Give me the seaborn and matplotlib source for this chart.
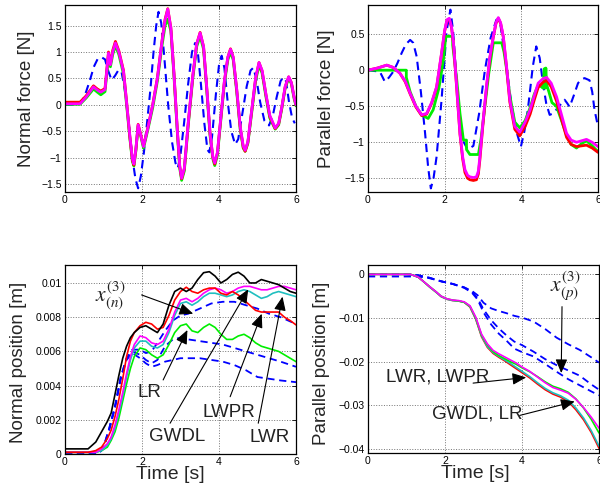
import numpy as np
import pandas as pd
import seaborn as sns
import matplotlib.pyplot as plt
from matplotlib.ticker import FuncFormatter

# ---- Normal force (top left) ----
t_nf = [0, 0.39, 0.55, 0.74, 0.84, 0.93, 1.04, 1.08, 1.13, 1.18, 1.24, 1.31, 1.40, 1.52, 1.60, 1.68,
        1.75, 1.79, 1.84, 1.90, 1.96, 2.04, 2.15, 2.28, 2.40, 2.52, 2.60, 2.67, 2.75, 2.83, 2.92, 2.98,
        3.03, 3.10, 3.20, 3.32, 3.42, 3.51, 3.60, 3.68, 3.77, 3.84, 3.89, 3.96, 4.04, 4.14, 4.23, 4.30,
        4.37, 4.46, 4.55, 4.63, 4.68, 4.75, 4.85, 4.95, 5.04, 5.12, 5.22, 5.32, 5.46, 5.55, 5.63, 5.72,
        5.81, 5.88, 5.95, 6.0]
magenta_nf = [0.02, 0.02, 0.15, 0.34, 0.28, 0.24, 0.29, 0.60, 0.98, 0.76, 1.00, 1.17, 1.00, 0.63, 0.05, -0.55,
              -1.02, -1.12, -0.85, -0.38, -0.55, -0.79, -0.45, 0.00, 0.50, 1.20, 1.60, 1.81, 1.45, 0.60, -0.50, -1.15,
              -1.39, -1.20, -0.35, 0.55, 1.15, 1.36, 1.10, 0.35, -0.55, -0.98, -1.10, -0.90, -0.30, 0.45, 0.90, 1.05,
              0.90, 0.30, -0.40, -0.78, -0.86, -0.70, -0.10, 0.50, 0.80, 0.65, 0.20, -0.20, -0.44, -0.35, -0.05, 0.35,
              0.53, 0.42, 0.15, 0.00]
green_nf = [0.01, 0.01, 0.13, 0.30, 0.24, 0.19, 0.25, 0.55, 0.92, 0.72, 0.95, 1.12, 0.95, 0.58, 0.00, -0.60,
            -1.07, -1.16, -0.88, -0.40, -0.57, -0.82, -0.48, -0.05, 0.45, 1.12, 1.50, 1.62, 1.40, 0.55, -0.55, -1.20,
            -1.43, -1.25, -0.40, 0.50, 1.10, 1.30, 1.05, 0.30, -0.60, -1.02, -1.15, -0.95, -0.35, 0.40, 0.85, 1.00,
            0.85, 0.25, -0.45, -0.82, -0.88, -0.73, -0.15, 0.45, 0.75, 0.60, 0.15, -0.25, -0.46, -0.38, -0.08, 0.32,
            0.50, 0.40, 0.12, -0.02]
red_nf = [0.05, 0.05, 0.17, 0.36, 0.30, 0.26, 0.31, 0.62, 1.00, 0.78, 1.03, 1.20, 1.02, 0.65, 0.06, -0.57,
          -1.04, -1.14, -0.86, -0.37, -0.54, -0.78, -0.44, 0.01, 0.51, 1.21, 1.62, 1.82, 1.46, 0.61, -0.50, -1.16,
          -1.40, -1.21, -0.36, 0.55, 1.15, 1.37, 1.10, 0.34, -0.56, -0.99, -1.12, -0.91, -0.31, 0.44, 0.90, 1.06,
          0.90, 0.29, -0.42, -0.80, -0.88, -0.71, -0.11, 0.49, 0.80, 0.64, 0.19, -0.22, -0.45, -0.36, -0.06, 0.34,
          0.53, 0.42, 0.15, 0.00]
t_nf_ref = [0, 0.35, 0.45, 0.55, 0.65, 0.75, 0.85, 0.95, 1.04, 1.12, 1.21, 1.30, 1.39, 1.47, 1.55, 1.65, 1.75,
            1.83, 1.90, 1.97, 2.05, 2.13, 2.22, 2.30, 2.37, 2.43, 2.50, 2.58, 2.68, 2.78, 2.87, 2.93, 3.00, 3.10,
            3.20, 3.30, 3.38, 3.45, 3.53, 3.62, 3.70, 3.75, 3.82, 3.92, 4.00, 4.07, 4.14, 4.22, 4.32, 4.42, 4.50,
            4.60, 4.72, 4.82, 4.89, 4.97, 5.07, 5.18, 5.30, 5.40, 5.50, 5.60, 5.67, 5.74, 5.82, 5.90, 5.97]
blue_nf = [0.0, 0.0, 0.08, 0.25, 0.47, 0.72, 0.87, 0.90, 0.86, 0.65, 0.47, 0.55, 0.66, 0.62, 0.30, -0.30, -1.00,
           -1.40, -1.58, -1.35, -0.90, -0.35, 0.30, 1.00, 1.50, 1.76, 1.55, 0.90, 0.00, -0.70, -1.10, -1.20, -0.95, -0.30,
           0.40, 1.00, 1.17, 1.00, 0.40, -0.35, -0.85, -0.90, -0.60, 0.20, 0.75, 0.93, 0.70, 0.10, -0.50, -0.75, -0.65,
           -0.20, 0.35, 0.65, 0.70, 0.50, 0.05, -0.30, -0.39, -0.20, 0.15, 0.45, 0.52, 0.45, 0.05, -0.25, -0.35]

# ---- Parallel force (top right) ----
t_pf = [0, 0.25, 0.49, 0.65, 0.83, 0.97, 1.10, 1.25, 1.40, 1.53, 1.66, 1.79, 1.92, 2.00, 2.06, 2.12, 2.18, 2.23,
        2.31, 2.40, 2.47, 2.53, 2.60, 2.66, 2.75, 2.83, 2.88, 2.92, 3.00, 3.10, 3.18, 3.27, 3.34, 3.40, 3.46, 3.53,
        3.61, 3.70, 3.83, 3.96, 4.10, 4.23, 4.34, 4.44, 4.56, 4.66, 4.78, 4.92, 5.05, 5.18, 5.30, 5.44, 5.57, 5.70,
        5.85, 6.0]
magenta_pf = [0.0, 0.03, 0.07, 0.04, -0.04, -0.15, -0.32, -0.50, -0.62, -0.60, -0.45, -0.23, 0.24, 0.55, 0.70, 0.72,
              0.60, 0.38, -0.20, -0.875, -1.20, -1.38, -1.46, -1.48, -1.49, -1.48, -1.40, -1.20, -0.72, -0.18, 0.18,
              0.47, 0.66, 0.73, 0.66, 0.47, 0.08, -0.41, -0.78, -0.86, -0.72, -0.55, -0.35, -0.18, -0.12, -0.10, -0.18,
              -0.37, -0.62, -0.875, -0.97, -1.00, -0.98, -0.96, -1.00, -1.06]
red_pf = [0.0, 0.03, 0.07, 0.04, -0.04, -0.16, -0.33, -0.51, -0.63, -0.61, -0.46, -0.24, 0.23, 0.54, 0.69, 0.71,
          0.59, 0.37, -0.22, -0.89, -1.23, -1.42, -1.50, -1.52, -1.53, -1.52, -1.44, -1.24, -0.75, -0.20, 0.17,
          0.46, 0.65, 0.72, 0.65, 0.46, 0.06, -0.44, -0.82, -0.91, -0.78, -0.61, -0.41, -0.24, -0.17, -0.14, -0.23,
          -0.43, -0.68, -0.93, -1.03, -1.06, -1.05, -1.04, -1.08, -1.14]
t_pf_g = [0, 1.0, 1.0, 1.10, 1.25, 1.40, 1.57, 1.70, 1.85, 1.97, 2.03, 2.21, 2.21, 2.31, 2.40, 2.49, 2.57, 2.57,
          2.66, 2.88, 2.95, 3.05, 3.15, 3.27, 3.49, 3.55, 3.62, 3.70, 3.83, 3.96, 4.10, 4.23, 4.34, 4.45, 4.57,
          4.60, 4.62, 4.64, 4.66, 4.72, 4.80, 4.92, 4.95, 5.05, 5.18, 5.30, 5.44, 5.57, 5.70, 5.85, 6.0]
green_pf = [0, 0, -0.10, -0.30, -0.50, -0.62, -0.67, -0.55, -0.25, 0.15, 0.47, 0.47, 0.35, -0.10, -0.60, -0.97,
            -0.97, -1.10, -1.17, -1.17, -0.95, -0.50, -0.05, 0.38, 0.38, 0.25, 0.0, -0.35, -0.72, -0.80, -0.70,
            -0.52, -0.33, -0.20, -0.25, 0.02, -0.25, 0.03, -0.20, -0.30, -0.45, -0.50, -0.55, -0.70, -0.90, -1.03,
            -1.08, -1.02, -0.98, -1.05, -1.13]
t_pf_ref = [0, 0.31, 0.44, 0.55, 0.66, 0.77, 0.88, 0.99, 1.10, 1.18, 1.27, 1.38, 1.49, 1.57, 1.64, 1.71, 1.79,
            1.92, 2.05, 2.15, 2.22, 2.32, 2.45, 2.60, 2.75, 2.90, 3.05, 3.20, 3.35, 3.45, 3.60, 3.75, 3.90, 3.99,
            4.08, 4.17, 4.30, 4.39, 4.48, 4.57, 4.65, 4.74, 4.83, 4.91, 5.02, 5.13, 5.20, 5.26, 5.37, 5.48, 5.56,
            5.65, 5.78, 5.85, 5.91, 6.0]
blue_pf = [0.0, -0.02, -0.16, -0.10, -0.02, 0.10, 0.24, 0.36, 0.42, 0.38, 0.19, -0.30, -0.875, -1.35, -1.64, -1.50,
           -1.20, -0.41, 0.54, 0.84, 0.55, -0.20, -0.95, -1.10, -1.05, -0.60, 0.00, 0.45, 0.70, 0.65, 0.10, -0.50,
           -0.90, -1.06, -0.85, -0.55, 0.05, 0.33, 0.17, -0.20, -0.46, -0.62, -0.60, -0.55, -0.48, -0.41, -0.46,
           -0.51, -0.35, -0.18, -0.13, -0.11, -0.14, -0.30, -0.55, -0.78]

# ---- Normal position (bottom left) ----
t_np = [0, 0.6, 0.8, 0.95, 1.1, 1.2, 1.3, 1.4, 1.5, 1.6, 1.7, 1.8, 1.95, 2.1, 2.25, 2.4, 2.55, 2.7, 2.85, 3.0,
        3.15, 3.3, 3.45, 3.6, 3.75, 3.9, 4.05, 4.2, 4.35, 4.5, 4.65, 4.8, 4.95, 5.1, 5.25, 5.4, 5.55, 5.7, 5.85, 6.0]
black_np = [.0003, .0003, .0007, .0013, .0019, .0024, .0035, .0046, .0056, .0063, .0068, .0071, .0074, .0075, .0073,
            .0071, .0076, .0087, .0095, .0097, .0095, .0097, .0102, .0106, .01066, .0104, .0100, .0102, .0105, .01063,
            .0104, .0100, .0100, .0102, .0101, .0100, .0099, .0097, .0095, .0094]
red_np = [.0001, .0001, .0002, .0004, .0009, .0014, .0022, .0032, .0044, .0057, .0066, .0071, .0075, .0077, .0076,
          .0073, .0074, .0081, .0090, .0095, .00975, .0095, .0094, .0096, .0097, .0097, .0094, .0093, .0095, .0093,
          .0090, .0087, .0084, .0083, .0083, .0083, .0083, .0080, .0078, .00755]
magenta_np = [.0001, .0001, .0001, .0003, .0006, .0010, .0017, .0026, .0036, .0047, .0057, .0064, .0069, .0068, .0065,
              .0064, .0066, .0073, .0083, .0090, .0091, .0089, .0091, .0094, .0096, .0097, .0096, .0094, .0095, .0097,
              .0098, .0098, .0097, .0096, .0096, .0097, .0098, .0098, .0097, .0096]
cyan_np = [.0001, .0001, .0001, .0002, .0005, .0009, .0015, .0024, .0034, .0045, .0055, .0062, .0066, .0066, .0063,
           .0062, .0064, .0071, .0081, .0088, .0089, .0087, .0089, .0092, .0094, .0094, .0093, .0092, .0093, .0095,
           .0096, .0095, .0093, .0091, .0092, .0094, .0095, .0094, .0093, .0092]
green_np = [.0001, .0001, .0001, .0002, .0004, .0008, .0013, .0021, .0031, .0041, .0050, .0057, .0062, .0061, .0058,
            .0056, .0058, .0064, .0071, .0075, .0076, .0072, .0071, .0074, .0076, .0074, .0070, .0067, .0067, .0069,
            .0070, .0068, .0065, .0063, .0062, .0061, .0060, .0058, .0056, .0054]
t_np_ref = [0, 0.85, 1.0, 1.15, 1.3, 1.45, 1.6, 1.75, 1.95, 2.1, 2.25, 2.4, 2.6, 2.8, 3.0, 3.2, 3.5, 3.8, 4.1,
            4.4, 4.7, 5.0, 5.3, 5.6, 6.0]
blue_np_a = [0, 0, .0004, .0015, .0028, .0045, .0056, .0061, .0061, .0059, .0060, .0065, .0072, .0078, .0081, .0082,
             .0085, .0088, .0089, .0089, .0087, .0085, .0082, .0080, .0076]
blue_np_b = [0, 0, .0004, .0015, .0028, .0045, .0056, .0060, .0058, .0055, .0053, .0055, .0063, .0067, .0068, .0067,
             .0066, .0065, .0064, .0062, .0060, .0058, .0056, .0054, .0051]
blue_np_c = [0, 0, .0003, .0014, .0027, .0044, .0055, .0059, .0056, .0053, .0051, .0052, .0054, .0055, .0056, .0056,
             .0056, .0055, .0054, .0052, .0049, .0045, .0044, .0043, .0042]

# ---- Parallel position (bottom right) ----
t_pp = [0, 1.1, 1.3, 1.45, 1.6, 1.77, 1.9, 2.05, 2.2, 2.35, 2.5, 2.65, 2.8, 2.95, 3.1, 3.25, 3.4, 3.55, 3.7, 3.85,
        4.0, 4.2, 4.4, 4.6, 4.8, 5.0, 5.2, 5.4, 5.6, 5.8, 6.0]
magenta_pp = [0, 0, -0.0006, -0.0017, -0.0028, -0.0040, -0.0050, -0.0056, -0.0059, -0.0060, -0.0063, -0.0072,
              -0.0098, -0.0137, -0.0159, -0.0174, -0.0182, -0.0189, -0.0196, -0.0203, -0.0212, -0.0222, -0.0235,
              -0.0248, -0.0259, -0.0265, -0.0272, -0.0286, -0.0305, -0.0327, -0.0352]
red_pp = [0, 0, -0.0006, -0.0017, -0.0029, -0.0041, -0.0051, -0.0057, -0.0060, -0.0061, -0.0064, -0.0075, -0.0103,
          -0.0143, -0.0167, -0.0181, -0.0190, -0.0198, -0.0207, -0.0216, -0.0225, -0.0237, -0.0251, -0.0264, -0.0274,
          -0.0281, -0.0291, -0.0310, -0.0333, -0.0362, -0.0398]
cyan_pp = [0, 0, -0.0006, -0.0017, -0.0029, -0.0041, -0.0051, -0.0057, -0.0060, -0.0061, -0.0064, -0.0074, -0.0102,
           -0.0141, -0.0165, -0.0179, -0.0188, -0.0196, -0.0204, -0.0213, -0.0222, -0.0234, -0.0248, -0.0261, -0.0271,
           -0.0278, -0.0288, -0.0306, -0.0329, -0.0358, -0.0393]
green_pp = [0, 0, -0.0006, -0.0017, -0.0028, -0.0040, -0.0050, -0.0056, -0.0059, -0.0061, -0.0064, -0.0073, -0.0100,
            -0.0139, -0.0161, -0.0177, -0.0186, -0.0193, -0.0200, -0.0206, -0.0214, -0.0223, -0.0234, -0.0246,
            -0.0256, -0.0262, -0.0270, -0.0285, -0.0306, -0.0332, -0.0363]
t_pp_ref = [0, 1.0, 1.3, 1.6, 1.9, 2.2, 2.5, 2.7, 2.85, 3.0, 3.2, 3.4, 3.6, 3.8, 4.0, 4.3, 4.6, 4.9, 5.2, 5.5,
            5.8, 6.0]
blue_pp_a = [0, 0, -0.0002, -0.0008, -0.0016, -0.0022, -0.0030, -0.0038, -0.0048, -0.0065, -0.0078, -0.0084,
             -0.0089, -0.0095, -0.0099, -0.0108, -0.0125, -0.0145, -0.0160, -0.0173, -0.0190, -0.0202]
blue_pp_b = [0, 0, -0.0002, -0.0008, -0.0016, -0.0022, -0.0030, -0.0040, -0.0055, -0.0080, -0.0105, -0.0124,
             -0.0140, -0.0154, -0.0162, -0.0177, -0.0194, -0.0208, -0.0220, -0.0232, -0.0252, -0.0264]
blue_pp_c = [-0.0005, -0.0005, -0.0005, -0.0009, -0.0016, -0.0022, -0.0031, -0.0042, -0.0058, -0.0087, -0.0115,
             -0.0136, -0.0152, -0.0170, -0.0178, -0.0188, -0.0205, -0.0223, -0.0240, -0.0254, -0.0268, -0.0277]

sns.set_style('white')
plt.rcParams['font.family'] = ['Liberation Sans', 'DejaVu Sans']
plt.rcParams['mathtext.fontset'] = 'stix'

BLUE, GREEN, RED, MAG, CYAN = '#0000ff', '#00ee00', '#ff0000', '#ff00ff', '#1fbfbf'
DASH = (0, (4, 2.6))

fig = plt.figure(figsize=(6, 4.97), dpi=100)
ax1 = fig.add_axes([0.1083, 0.6137, 0.385, 0.3763])
ax2 = fig.add_axes([0.6133, 0.6137, 0.3833, 0.3763])
ax3 = fig.add_axes([0.1083, 0.0865, 0.385, 0.3803])
ax4 = fig.add_axes([0.6133, 0.0885, 0.385, 0.378])


def draw(ax, t, y, color, lw, ls='-'):
    sns.lineplot(x=t, y=y, ax=ax, color=color, lw=lw, linestyle=ls,
                 sort=False, estimator=None, legend=False)


draw(ax1, t_nf_ref, blue_nf, BLUE, 1.5, DASH)
draw(ax1, t_nf, green_nf, GREEN, 2.0)
draw(ax1, t_nf, red_nf, RED, 2.0)
draw(ax1, t_nf, magenta_nf, MAG, 2.0)

draw(ax2, t_pf_ref, blue_pf, BLUE, 1.5, DASH)
draw(ax2, t_pf_g, green_pf, GREEN, 2.0)
draw(ax2, t_pf, red_pf, RED, 2.0)
draw(ax2, t_pf, magenta_pf, MAG, 2.0)

for yb in (blue_np_a, blue_np_b, blue_np_c):
    draw(ax3, t_np_ref, yb, BLUE, 1.3, DASH)
draw(ax3, t_np, green_np, GREEN, 1.2)
draw(ax3, t_np, cyan_np, CYAN, 1.2)
draw(ax3, t_np, magenta_np, MAG, 1.2)
draw(ax3, t_np, red_np, RED, 1.2)
draw(ax3, t_np, black_np, 'k', 1.2)

for yb in (blue_pp_a, blue_pp_b, blue_pp_c):
    draw(ax4, t_pp_ref, yb, BLUE, 1.3, DASH)
draw(ax4, t_pp, red_pp, RED, 1.2)
draw(ax4, t_pp, cyan_pp, CYAN, 1.2)
draw(ax4, t_pp, green_pp, GREEN, 1.2)
draw(ax4, t_pp, magenta_pp, MAG, 1.2)

fmt = FuncFormatter(lambda v, p: ('%g' % v).replace('-', '\u2212'))
setup = [
    (ax1, (-1.65, 1.89), [-1.5, -1, -0.5, 0, 0.5, 1, 1.5], 'Normal force [N]', -0.13, 0.5),
    (ax2, (-1.69, 0.905), [-1.5, -1, -0.5, 0, 0.5], 'Parallel force [N]', -0.143, 0.5),
    (ax3, (0, 0.01105), [0, 0.002, 0.004, 0.006, 0.008, 0.01], 'Normal position [m]', -0.165, 0.485),
    (ax4, (-0.0409, 0.0021), [-0.04, -0.03, -0.02, -0.01, 0], 'Parallel position [m]', -0.165, 0.475),
]
for ax, ylim, yt, lab, lx, ly in setup:
    ax.set_xlim(0, 6)
    ax.set_ylim(*ylim)
    ax.set_xticks([0, 2, 4, 6])
    ax.set_yticks(yt)
    ax.yaxis.set_major_formatter(fmt)
    ax.xaxis.set_major_formatter(fmt)
    ax.grid(True, linestyle=':', color='k', linewidth=0.7, alpha=0.55)
    ax.set_axisbelow(True)
    ax.tick_params(direction='in', length=3, width=0.6, top=True, right=True,
                   labelsize=7.5, pad=2.5, colors='k')
    for s in ax.spines.values():
        s.set_color('k')
        s.set_linewidth(0.9)
    ax.set_ylabel(lab, fontsize=13.5)
    ax.yaxis.set_label_coords(lx, ly)
    ax.set_xlabel('')

# x labels sit a little below the tick labels, as in the original
for ax, xc in ((ax3, 0.455), (ax4, 0.465)):
    ax.set_xlabel('Time [s]', fontsize=14)
    ax.xaxis.set_label_coords(xc, -0.062)

arrow = dict(arrowstyle='-|>,head_length=0.7,head_width=0.3', color='k', lw=0.8,
             mutation_scale=12, shrinkA=0, shrinkB=0)


def note(ax, label, pos, tail, head, size=13.5):
    ax.annotate('', xy=head, xytext=tail, arrowprops=arrow)
    ax.text(pos[0], pos[1], label, fontsize=size, ha='center', va='center', color='#222222')


note(ax3, r'$x^{(3)}_{(n)}$', (1.17, 0.0092), (1.99, 0.0093), (3.33, 0.0082), size=15.5)
note(ax3, 'LR', (2.2, 0.00357), (2.55, 0.00433), (3.18, 0.00725))
note(ax3, 'GWDL', (2.9, 0.001), (2.73, 0.0018), (4.76, 0.00963))
note(ax3, 'LWPR', (4.26, 0.00245), (4.29, 0.00335), (5.11, 0.0082))
note(ax3, 'LWR', (5.32, 0.00094), (5.02, 0.0018), (5.65, 0.0092))

note(ax4, r'$x^{(3)}_{(p)}$', (5.11, -0.0026), (5.04, -0.0074), (5.02, -0.0226), size=15.5)
note(ax4, 'LWR, LWPR', (1.82, -0.0236), (2.73, -0.0249), (4.11, -0.0236))
note(ax4, 'GWDL, LR', (2.83, -0.032), (3.94, -0.0323), (5.37, -0.0291))

fig.savefig('out.png', dpi=100)
